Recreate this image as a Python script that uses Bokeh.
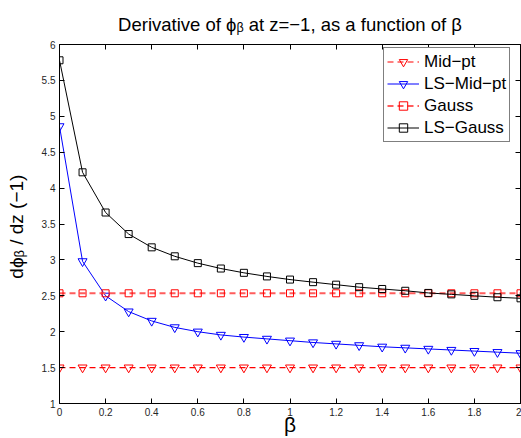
from bokeh.plotting import figure
from bokeh.models import Range1d, LinearAxis, FixedTicker, Legend, LegendItem
from bokeh.embed import file_html
from bokeh.resources import INLINE

beta = [0.0, 0.1, 0.2, 0.3, 0.4, 0.5, 0.6, 0.7, 0.8, 0.9, 1.0,
        1.1, 1.2, 1.3, 1.4, 1.5, 1.6, 1.7, 1.8, 1.9, 2.0]
mid_pt = [1.5, 1.5, 1.5, 1.5, 1.5, 1.5, 1.5, 1.5, 1.5, 1.5, 1.5,
          1.5, 1.5, 1.5, 1.5, 1.5, 1.5, 1.5, 1.5, 1.5, 1.5]
ls_mid_pt = [4.86, 2.98, 2.50, 2.28, 2.15, 2.06, 2.00, 1.955, 1.925, 1.90, 1.875,
             1.85, 1.83, 1.81, 1.79, 1.775, 1.76, 1.745, 1.73, 1.715, 1.70]
gauss = [2.535, 2.535, 2.535, 2.535, 2.535, 2.535, 2.535, 2.535, 2.535, 2.535, 2.535,
         2.535, 2.535, 2.535, 2.535, 2.535, 2.535, 2.535, 2.535, 2.535, 2.535]
ls_gauss = [5.78, 4.22, 3.66, 3.36, 3.175, 3.05, 2.955, 2.88, 2.82, 2.77, 2.726,
            2.69, 2.655, 2.62, 2.595, 2.57, 2.54, 2.52, 2.50, 2.48, 2.465]

x_ticks = [0, 0.2, 0.4, 0.6, 0.8, 1, 1.2, 1.4, 1.6, 1.8, 2]
x_tick_labels = ["0", "0.2", "0.4", "0.6", "0.8", "1", "1.2", "1.4", "1.6", "1.8", "2"]
y_ticks = [1, 1.5, 2, 2.5, 3, 3.5, 4, 4.5, 5, 5.5, 6]
y_tick_labels = ["1", "1.5", "2", "2.5", "3", "3.5", "4", "4.5", "5", "5.5", "6"]

title_text = "Derivative of \u03d5\u1d66 at z=\u22121, as a function of \u03b2"
x_label = "\u03b2"
y_label = "d\u03d5\u1d66 / dz  (\u22121)"

FONT = "Liberation Sans"

p = figure(width=521, height=438, output_backend="svg", toolbar_location=None,
           x_range=Range1d(0, 2), y_range=Range1d(1, 6),
           min_border_left=59, min_border_right=1, min_border_top=44, min_border_bottom=34)
p.xgrid.visible = False
p.ygrid.visible = False
p.outline_line_color = "black"
p.outline_line_width = 1

p.title.text = title_text
p.title.align = "center"
p.title.text_font = FONT
p.title.text_font_size = "18.5px"
p.title.text_font_style = "normal"
p.title.text_color = "black"
p.title.standoff = 20

bottom_ax = p.xaxis[0]
left_ax = p.yaxis[0]


def style_axis(ax, ticks, labels, show):
    ax.ticker = FixedTicker(ticks=ticks)
    ax.major_tick_in = 5
    ax.major_tick_out = 0
    ax.minor_tick_line_color = None
    ax.axis_line_color = "black"
    ax.major_tick_line_color = "black"
    ax.major_label_text_font = FONT
    ax.major_label_text_color = "#262626"
    if show:
        ax.major_label_overrides = {t: l for t, l in zip(ticks, labels)}
        ax.major_label_text_font_size = "10px"
        ax.major_label_standoff = 4
    else:
        ax.major_label_overrides = {t: "" for t in ticks}
        ax.major_label_text_font_size = "1px"
        ax.major_label_standoff = 0


style_axis(bottom_ax, x_ticks, x_tick_labels, True)
style_axis(left_ax, y_ticks, y_tick_labels, True)
top_ax = LinearAxis()
style_axis(top_ax, x_ticks, x_tick_labels, False)
right_ax = LinearAxis()
style_axis(right_ax, y_ticks, y_tick_labels, False)
p.add_layout(top_ax, "above")
p.add_layout(right_ax, "right")

bottom_ax.axis_label = x_label
bottom_ax.axis_label_text_font = FONT
bottom_ax.axis_label_text_font_size = "21px"
bottom_ax.axis_label_text_font_style = "normal"
bottom_ax.axis_label_text_color = "black"
bottom_ax.axis_label_standoff = -6

left_ax.axis_label = y_label
left_ax.axis_label_text_font = FONT
left_ax.axis_label_text_font_size = "19px"
left_ax.axis_label_text_font_style = "normal"
left_ax.axis_label_text_color = "black"
left_ax.axis_label_standoff = 12

# series
r1l = p.line(beta, mid_pt, line_color="#ff0000", line_width=1.2, line_dash="6 4")
r1m = p.scatter(beta, mid_pt, marker="inverted_triangle", size=9, line_color="#ff0000",
                fill_alpha=0, line_width=1)
r2l = p.line(beta, ls_mid_pt, line_color="#0000ff", line_width=1)
r2m = p.scatter(beta, ls_mid_pt, marker="inverted_triangle", size=9, line_color="#0000ff",
                fill_alpha=0, line_width=1)
r3l = p.line(beta, gauss, line_color="#ff5c5c", line_width=2, line_dash="6 4")
r3m = p.scatter(beta, gauss, marker="square", size=7, line_color="#ff0000",
                fill_alpha=0, line_width=1)
r4l = p.line(beta, ls_gauss, line_color="#000000", line_width=1)
r4m = p.scatter(beta, ls_gauss, marker="square", size=7, line_color="#000000",
                fill_alpha=0, line_width=1)

legend = Legend(items=[
    LegendItem(label="Mid\u2212pt", renderers=[r1l, r1m]),
    LegendItem(label="LS\u2212Mid\u2212pt", renderers=[r2l, r2m]),
    LegendItem(label="Gauss", renderers=[r3l, r3m]),
    LegendItem(label="LS\u2212Gauss", renderers=[r4l, r4m]),
], location=(324, 261))
legend.label_text_font = FONT
legend.label_text_font_size = "17px"
legend.label_text_color = "black"
legend.label_height = 21
legend.glyph_height = 21
legend.glyph_width = 32
legend.spacing = 1
legend.padding = 3
legend.margin = 0
legend.label_standoff = 5
legend.border_line_color = "black"
legend.border_line_width = 1
legend.background_fill_alpha = 1
p.add_layout(legend, "center")

open("out.html", "w").write(file_html(p, INLINE))
